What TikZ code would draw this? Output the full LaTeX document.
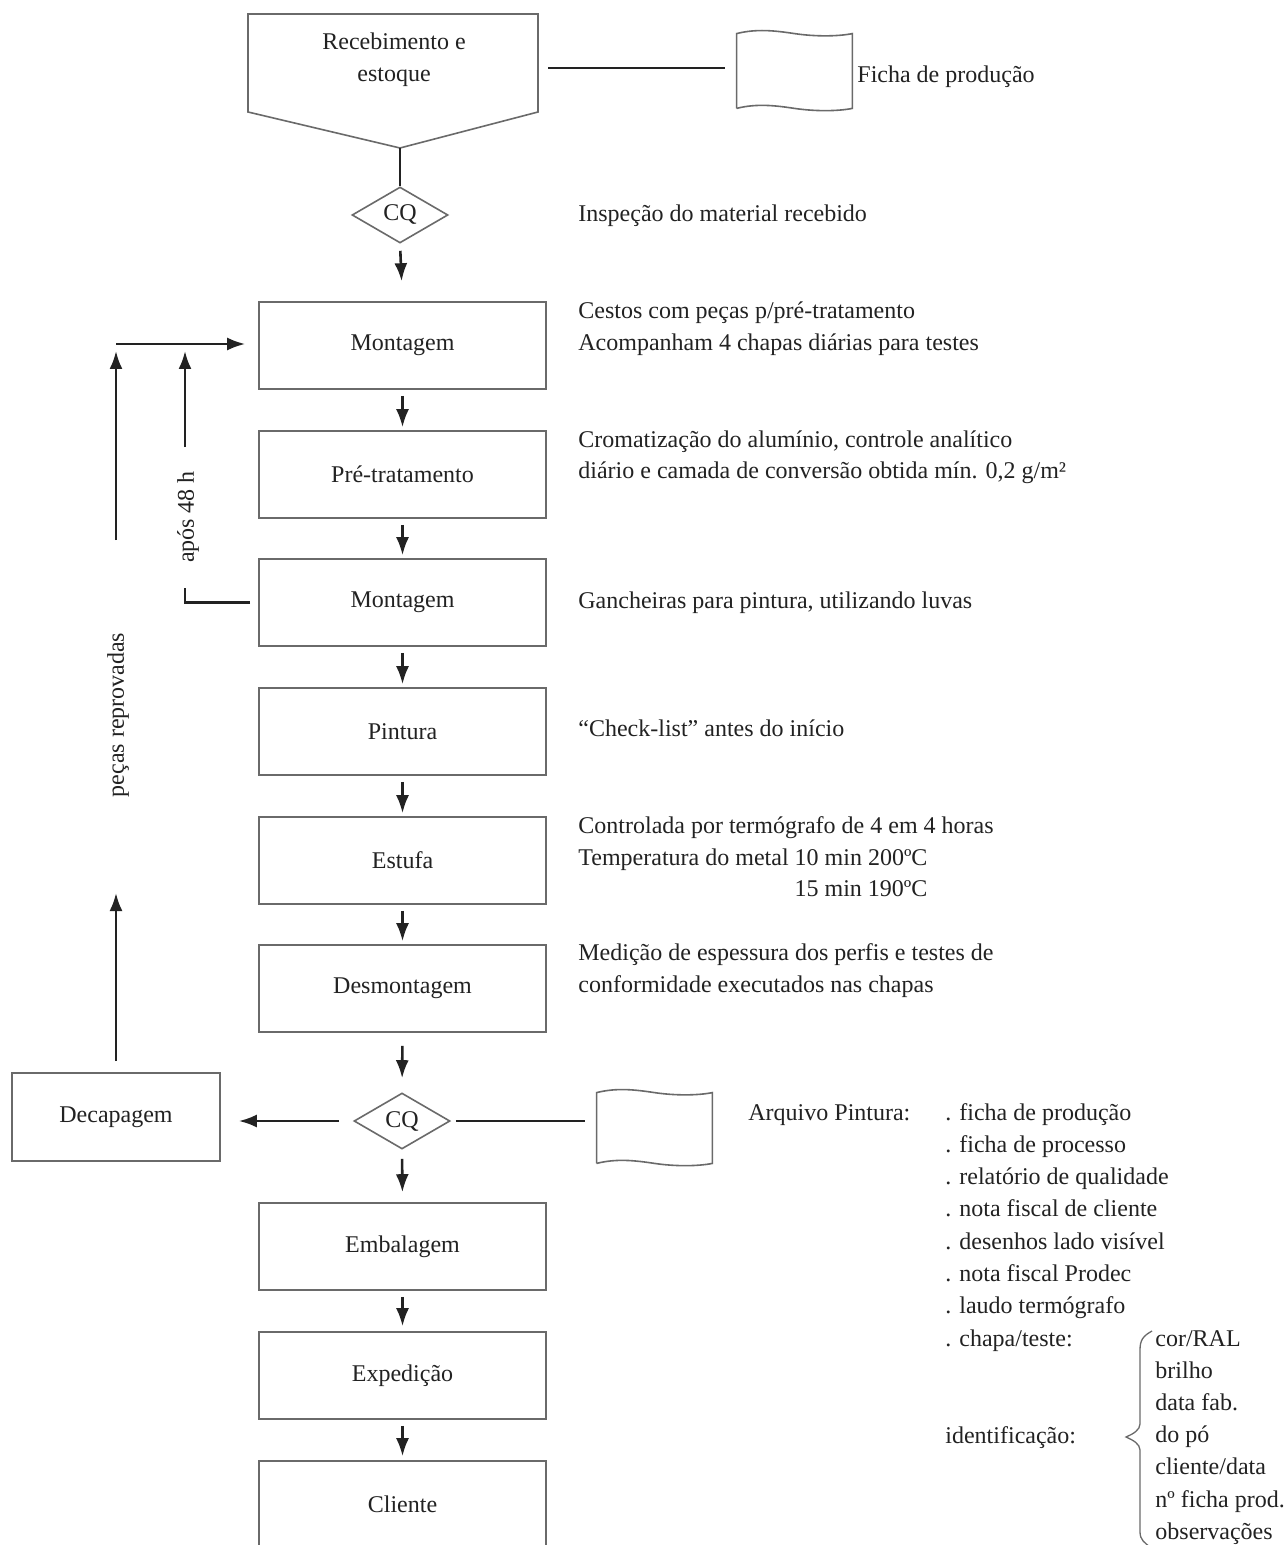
\documentclass[tikz,border=0pt]{standalone}
\usepackage{fontspec}
\setmainfont{Liberation Serif}
\usetikzlibrary{shapes.geometric,arrows.meta,calc}
\definecolor{ink}{HTML}{222222}
\definecolor{frame}{HTML}{6A6A6A}
\begin{document}
\begin{tikzpicture}[x=0.5pt,y=-0.5pt,
  font=\fontsize{12}{16.2}\selectfont, text=ink,
  box/.style={draw=frame, line width=0.8pt, minimum width=143.5pt, minimum height=43.5pt, inner sep=0pt},
  cq/.style={draw=frame, line width=0.8pt, shape=diamond, minimum width=48pt, minimum height=28pt, inner sep=0pt, aspect=1.7},
  doc/.style={inner sep=0pt, minimum width=57.5pt},
  docline/.style={draw=frame, line width=0.8pt},
  arr/.style={draw=ink, line width=1.3pt, -{Latex[length=9pt,width=6.5pt]}},
  conn/.style={draw=ink, line width=1.2pt},
  txt/.style={anchor=base west, inner sep=0pt},
]
\clip (0,0) rectangle (1288,1545);
\fill[white] (0,0) rectangle (1288,1545);

% ---------- receiving (pentagon) ----------
\coordinate (p1) at (248,14);
\coordinate (p2) at (538,14);
\coordinate (p3) at (538,112);
\coordinate (ptip) at (400,148);
\coordinate (p5) at (248,112);
\draw[docline] (p1) -- (p2) -- (p3) -- (ptip) -- (p5) -- cycle;
\node[align=center, inner sep=0pt] (rec) at (394,60) {Recebimento e\\estoque};
\coordinate (recE) at (538,68);

% ---------- document 1 ----------
\node[doc, minimum height=37pt] (doc1) at (794.5,71) {};
\draw[docline] (doc1.south west) -- (doc1.north west)
  .. controls +(20,-5) and +(-20,-3) .. (doc1.north)
  .. controls +(20,3) and +(-15,3) .. (doc1.north east)
  -- (doc1.south east)
  .. controls +(-15,3) and +(20,3) .. (doc1.south)
  .. controls +(-20,-3) and +(20,-5) .. (doc1.south west);
\node[txt] (fp) at (857,83) {Ficha de produção};

% ---------- main column ----------
\node[cq] (cq1) at (400,215) {CQ};
\node[box] (m1) at (402.5,345.5) {Montagem};
\node[box] (pre) at (402.5,474.5) {Pré-tratamento};
\node[box] (m2) at (402.5,602.5) {Montagem};
\node[box] (pin) at (402.5,731.5) {Pintura};
\node[box] (est) at (402.5,860.5) {Estufa};
\node[box] (des) at (402.5,988.5) {Desmontagem};
\node[cq] (cq2) at (402,1121) {CQ};
\node[box] (emb) at (402.5,1246.5) {Embalagem};
\node[box] (exp) at (402.5,1375.5) {Expedição};
\node[box] (cli) at (402.5,1504.5) {Cliente};
\node[box, minimum width=104pt, minimum height=44pt] (dec) at (116,1117) {Decapagem};

% ---------- document 2 ----------
\node[doc, minimum height=35pt] (doc2) at (654.5,1128) {};
\draw[docline] (doc2.south west) -- (doc2.north west)
  .. controls +(20,-5) and +(-20,-3) .. (doc2.north)
  .. controls +(20,3) and +(-15,3) .. (doc2.north east)
  -- (doc2.south east)
  .. controls +(-15,3) and +(20,3) .. (doc2.south)
  .. controls +(-20,-3) and +(20,-5) .. (doc2.south west);

% ---------- connectors main column ----------
\draw[conn] (ptip) -- (cq1.north);
\draw[conn, shorten <=5pt, shorten >=6pt] (recE) -- (recE -| doc1.west);
\draw[arr, shorten <=3.5pt, shorten >=10pt] (cq1.south) -- (m1.north);
\draw[arr, shorten <=3pt, shorten >=1.5pt] (m1.south) -- (pre.north);
\draw[arr, shorten <=3pt, shorten >=1.5pt] (pre.south) -- (m2.north);
\draw[arr, shorten <=3pt, shorten >=1.5pt] (m2.south) -- (pin.north);
\draw[arr, shorten <=3pt, shorten >=1.5pt] (pin.south) -- (est.north);
\draw[arr, shorten <=3pt, shorten >=1.5pt] (est.south) -- (des.north);
\draw[arr, shorten <=6.5pt, shorten >=7pt] (des.south) -- (cq2.north);
\draw[arr, shorten <=4.5pt, shorten >=5pt] (cq2.south) -- (emb.north);
\draw[arr, shorten <=3pt, shorten >=2.5pt] (emb.south) -- (exp.north);
\draw[arr, shorten <=3pt, shorten >=2pt] (exp.south) -- (cli.north);
\draw[arr, shorten <=7pt, shorten >=9pt] (cq2.west) -- (cq2.west -| dec.east);
\draw[conn, shorten <=2.5pt, shorten >=6pt] (cq2.east) -- (cq2.east -| doc2.west);

% ---------- left return loops ----------
\coordinate (top) at (116,344);
\coordinate (r2) at (116,893);
\coordinate (r3) at (116,540);
\draw[arr, shorten >=6.5pt] (top) -- (top -| m1.west);
\draw[arr, shorten <=5.5pt] (dec.north) -- (r2);
\node[rotate=90, inner sep=0pt] (rep) at (118,715) {peças reprovadas};
\draw[arr, shorten >=3.5pt] (r3) -- (top);

\coordinate (a1) at (185,588);
\coordinate (a2) at (185,447);
\draw[conn, shorten <=4pt] (m2.west) -- (m2.west -| a1) -- (a1);
\node[rotate=90, inner sep=0pt] (apos) at (188,517) {após 48 h};
\draw[arr, shorten >=3.5pt] (a2) -- (a2 |- top);

% ---------- right descriptions ----------
\node[txt] (d1) at (578,222) {Inspeção do material recebido};
\node[txt] (d2) at (578,319) {Cestos com peças p/pré-tratamento};
\node[txt] (d3) at (578,351) {Acompanham 4 chapas diárias para testes};
\node[txt] (d4) at (578,447) {Cromatização do alumínio, controle analítico};
\node[txt] (d5) at (578,479) {diário e camada de conversão obtida mín. 0,2 g/m²};
\node[txt] (d6) at (578,608) {Gancheiras para pintura, utilizando luvas};
\node[txt] (d7) at (578,736) {“Check-list” antes do início};
\node[txt] (d8) at (578,833) {Controlada por termógrafo de 4 em 4 horas};
\node[txt] (d9) at (578,865) {Temperatura do metal 10 min 200ºC};
\node[anchor=base east, inner sep=0pt] (d10) at ($(d9.base east)+(0,31.5)$) {15 min 190ºC};
\node[txt] (d11) at (578,960) {Medição de espessura dos perfis e testes de};
\node[txt] (d12) at (578,992) {conformidade executados nas chapas};

% ---------- archive list ----------
\node[txt] (arq) at (748,1120) {Arquivo Pintura:};
\foreach \t [count=\i from 0] in {. ficha de produção, . ficha de processo, . relatório de qualidade, . nota fiscal de cliente, . desenhos lado visível, . nota fiscal Prodec, . laudo termógrafo, . chapa/teste:}
  \node[txt] (l\i) at (945,{1120+32.3*\i}) {\t};
\node[txt] (ident) at (945,1443) {identificação:};
\foreach \t [count=\i from 0] in {cor/RAL, brilho, data fab., do pó, cliente/data, nº ficha prod., observações}
  \node[txt] (c\i) at (1155,{1346+32.2*\i}) {\t};

% brace
\draw[frame, line width=0.65pt] (1152,1331) .. controls (1143,1336) and (1140,1340) .. (1140,1350)
  -- (1140,1424) .. controls (1140,1430) and (1133,1434) .. (1126,1437)
  .. controls (1133,1440) and (1140,1444) .. (1140,1450)
  -- (1140,1532) .. controls (1140,1540) and (1145,1543) .. (1150,1547);
\end{tikzpicture}
\end{document}
